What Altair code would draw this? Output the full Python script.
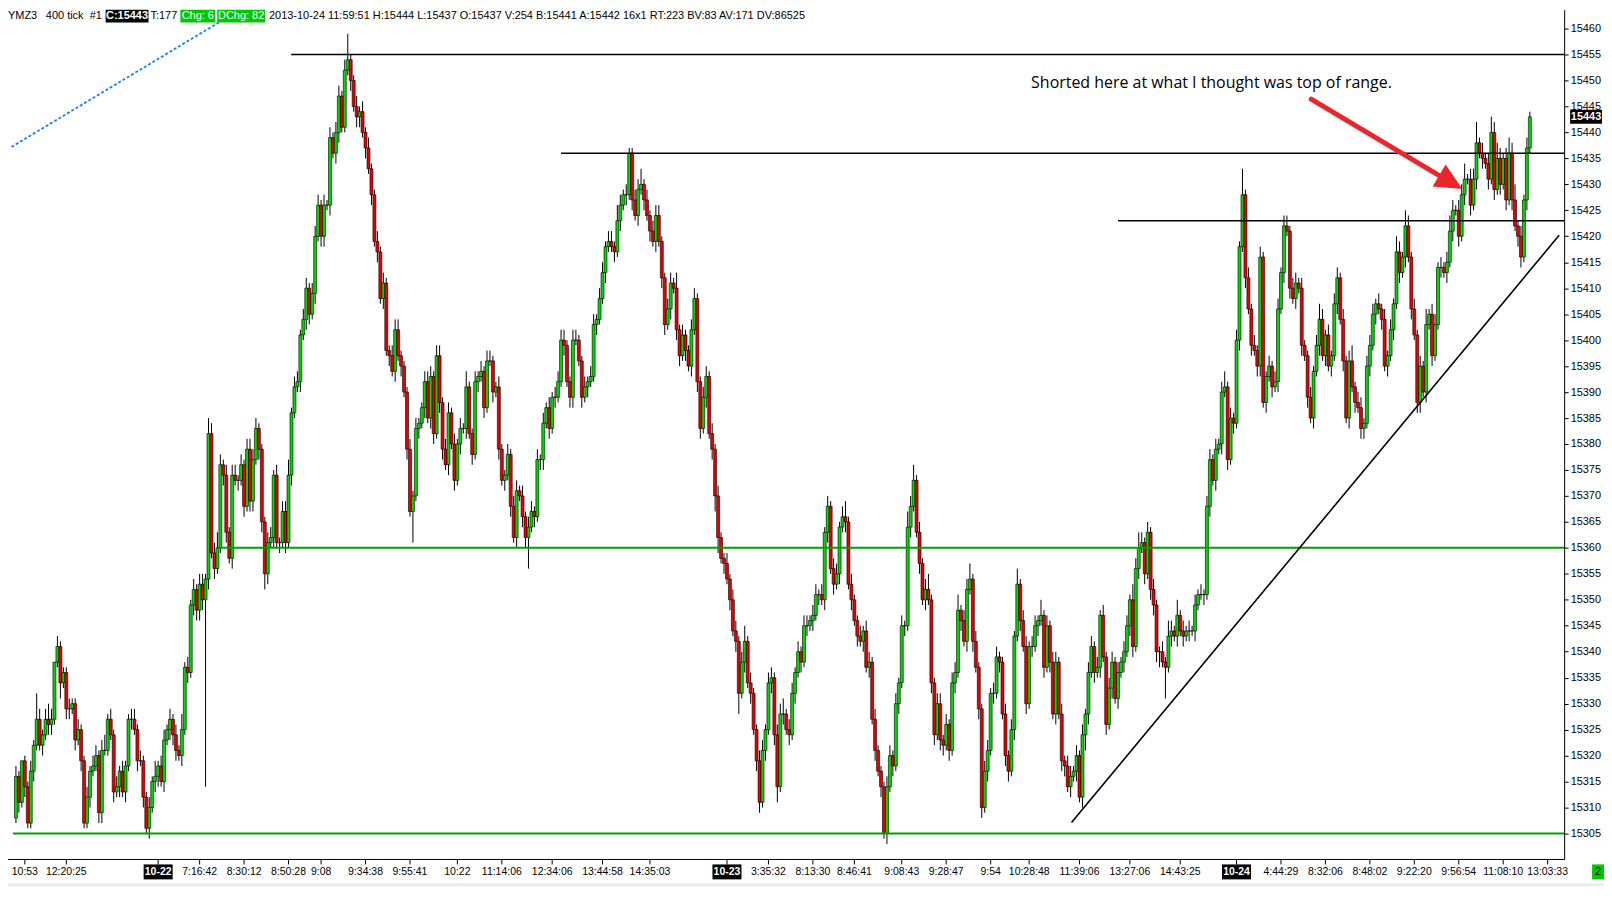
import altair as alt
import pandas as pd

# ---------------- data ----------------
first_open = 15308
close = [
    15316,15311,15319,15314,15307,15317,15322,15327,15322,15324,15327,15326,15327,15338,15341,15334,
    15336,15329,15329,15330,15323,15325,15319,15307,15312,15317,15318,15320,15309,15321,15321,15327,
    15324,15313,15314,15317,15313,15318,15327,15327,15325,15319,15319,15312,15306,15310,15315,15316,
    15318,15315,15323,15325,15327,15324,15321,15320,15325,15337,15336,15349,15352,15348,15353,15350,
    15354,15382,15359,15356,15360,15376,15374,15363,15358,15374,15373,15373,15376,15368,15379,15369,
    15377,15383,15379,15365,15355,15361,15362,15374,15361,15361,15367,15361,15374,15386,15391,15392,
    15401,15404,15410,15405,15409,15420,15426,15420,15426,15426,15439,15436,15440,15447,15441,15452,
    15454,15450,15445,15443,15444,15440,15437,15433,15428,15419,15417,15408,15411,15398,15397,15394,
    15402,15397,15395,15390,15379,15367,15370,15383,15384,15387,15392,15385,15393,15382,15397,15388,
    15379,15376,15386,15380,15373,15380,15383,15383,15391,15382,15378,15392,15393,15394,15387,15396,
    15396,15390,15391,15379,15373,15374,15378,15368,15362,15371,15370,15366,15362,15364,15367,15366,
    15377,15377,15384,15387,15383,15389,15389,15392,15400,15399,15392,15389,15400,15400,15396,15389,
    15391,15392,15393,15403,15404,15408,15413,15418,15419,15418,15417,15423,15426,15428,15428,15436,
    15427,15424,15429,15430,15427,15424,15421,15419,15424,15419,15412,15403,15406,15411,15410,15402,
    15397,15401,15398,15395,15402,15408,15392,15383,15389,15393,15382,15379,15370,15362,15358,15357,
    15354,15350,15344,15342,15332,15338,15342,15334,15332,15325,15319,15311,15321,15325,15334,15335,
    15324,15314,15328,15328,15325,15324,15332,15336,15340,15338,15345,15345,15346,15347,15351,15351,
    15350,15363,15368,15356,15353,15355,15364,15366,15365,15353,15350,15346,15343,15342,15344,15337,
    15338,15327,15321,15317,15314,15305,15314,15320,15318,15330,15334,15345,15345,15364,15368,15373,
    15363,15357,15350,15352,15350,15334,15324,15330,15323,15322,15326,15321,15334,15336,15348,15346,
    15342,15352,15354,15342,15337,15329,15310,15317,15321,15332,15332,15339,15338,15328,15320,15317,
    15325,15343,15353,15346,15341,15330,15341,15341,15345,15346,15347,15337,15345,15338,15328,15338,
    15328,15319,15318,15314,15316,15317,15320,15312,15324,15328,15336,15341,15336,15337,15347,15339,
    15326,15333,15338,15331,15336,15338,15340,15345,15350,15341,15356,15360,15361,15355,15363,15352,
    15349,15340,15340,15338,15337,15343,15344,15343,15347,15344,15343,15344,15344,15344,15349,15351,
    15351,15351,15368,15377,15373,15379,15380,15390,15391,15377,15385,15384,15400,15418,15428,15412,
    15406,15399,15398,15395,15416,15388,15393,15395,15391,15392,15406,15413,15422,15421,15410,15408,
    15411,15410,15399,15397,15389,15385,15394,15399,15404,15397,15401,15395,15397,15407,15412,15404,
    15396,15385,15396,15391,15388,15387,15383,15384,15395,15399,15405,15407,15406,15404,15395,15397,
    15402,15407,15417,15413,15416,15422,15416,15406,15401,15388,15395,15390,15403,15405,15397,15403,
    15414,15414,15413,15415,15421,15425,15425,15420,15428,15431,15431,15426,15431,15438,15436,15435,
    15434,15431,15440,15429,15435,15430,15435,15427,15436,15427,15422,15420,15416,15427,15437,15443,
]
up_wick = [
    2,1,0,1,1,2,1,5,2,1,2,3,2,0,2,1, 1,1,2,1,1,2,1,1,2,1,2,2,1,2,3,1,
    2,1,2,1,2,1,1,2,2,1,2,1,1,2,1,3, 1,2,2,1,2,1,2,1,3,1,2,1,2,1,2,2,
    1,3,2,2,3,2,1,2,1,2,2,1,2,1,2,2, 2,2,1,1,1,2,2,1,2,1,2,2,3,1,2,2,
    1,2,2,1,2,2,2,1,2,1,2,1,2,2,1,2, 5,1,1,2,1,2,1,2,1,1,2,1,2,1,1,2,
    2,2,1,1,1,2,1,2,1,1,2,2,2,1,2,2, 1,2,2,1,2,1,2,1,3,1,1,2,1,2,1,2,
    2,1,1,2,1,1,2,1,2,2,1,2,1,2,2,1, 2,1,2,1,2,1,2,2,2,2,1,1,2,2,1,1,
    2,1,2,2,1,2,2,1,2,2,1,3,2,1,2,1, 1,2,2,3,1,2,1,2,2,2,1,1,2,2,1,3,
    1,2,1,1,2,2,1,1,2,2,1,2,1,2,1,1, 2,1,2,2,1,2,3,1,2,1,1,2,2,1,2,2,
    1,2,2,3,1,2,2,1,2,1,2,2,1,2,2,1, 2,1,2,1,2,2,1,2,3,1,2,1,1,2,1,2,
    2,1,2,1,1,1,2,2,1,2,1,2,1,3,2,3, 1,2,1,2,3,1,1,2,2,1,2,1,2,2,3,1,
    2,2,3,1,2,1,1,2,2,1,2,2,1,1,2,1, 2,1,3,1,2,2,1,2,2,1,3,1,2,1,2,2,
    1,2,1,2,2,1,2,1,2,1,2,2,1,2,1,2, 1,2,2,1,2,1,2,2,1,3,2,3,2,1,2,1,
    2,1,1,2,1,3,2,1,3,1,2,1,2,1,2,1, 2,1,2,2,1,2,1,2,3,1,2,1,2,1,5,1,
    2,1,2,1,2,1,1,2,1,2,2,1,2,2,1,2, 2,1,2,1,1,2,1,2,3,2,1,2,1,2,2,1,
    2,1,2,3,1,2,2,1,2,2,2,1,2,1,2,1, 2,1,3,2,1,3,2,1,2,1,2,1,3,1,2,2,
    1,2,1,2,3,2,1,2,2,3,1,2,2,4,1,2, 1,2,3,2,3,2,1,2,3,2,3,1,2,1,2,1,
]
down_wick = [
    1,2,1,2,1,1,2,1,1,2,1,2,2,1,1,3, 1,2,2,1,2,1,2,1,1,2,1,1,2,2,1,1,
    1,2,1,2,1,2,1,2,1,2,1,2,1,2,1,2, 2,1,2,1,2,2,2,1,2,1,2,1,2,2,2,2,
    36,2,1,2,1,1,2,2,1,2,1,2,1,2,1,2, 2,1,2,2,3,2,1,2,1,2,1,2,1,2,1,1,
    2,1,2,2,1,2,1,2,2,1,2,1,2,2,1,1, 1,2,1,2,2,1,2,1,2,1,2,1,2,1,2,1,
    2,1,2,1,2,1,6,1,2,1,2,1,2,2,1,2, 2,1,2,1,2,1,2,1,2,1,2,1,2,1,2,1,
    1,2,1,2,1,2,1,2,1,2,1,2,2,6,1,2, 1,2,2,1,2,1,2,1,1,2,1,2,2,1,1,2,
    1,2,1,1,2,1,1,2,1,1,2,1,2,1,2,1, 2,1,2,1,2,1,2,1,2,1,2,2,1,2,1,2,
    2,1,2,1,2,1,2,2,1,2,1,2,3,3,1,2, 1,2,1,2,4,1,2,1,2,1,2,2,1,2,1,2,
    2,3,1,2,1,2,1,2,1,2,1,2,1,2,1,2, 1,2,2,1,2,1,2,1,2,1,2,1,2,1,2,1,
    2,1,2,1,2,1,2,1,2,1,2,1,2,1,2,1, 1,2,1,2,1,2,2,1,2,2,1,2,1,2,1,2,
    1,2,1,2,1,2,2,1,2,1,2,1,2,1,2,2, 1,2,1,2,1,2,1,2,1,2,1,2,1,2,1,2,
    1,2,2,1,2,1,2,1,2,3,2,1,2,1,2,1, 2,1,2,1,2,1,2,1,2,2,1,2,1,2,1,2,
    2,2,3,1,6,1,2,1,2,1,2,1,2,1,2,1, 1,2,1,2,1,2,1,2,1,2,1,2,1,2,1,2,
    1,2,1,2,2,1,2,1,2,1,2,1,2,1,2,1, 2,1,2,1,2,1,2,1,2,1,2,1,2,1,2,1,
    2,1,2,1,2,1,2,2,1,2,1,2,1,2,1,2, 1,2,1,2,1,2,1,2,1,2,2,1,2,1,2,1,
    1,2,1,2,1,2,1,2,1,2,1,2,1,2,1,2, 1,2,1,2,1,2,1,2,1,2,1,2,2,1,2,1,
]

time_idx = [3, 17, 62, 77, 92, 103, 118, 133, 149, 164, 181, 198, 214, 254, 269, 283, 299,
            314, 329, 342, 359, 376, 393, 427, 442, 457, 472, 487, 502, 517]
time_lbl = ["10:53", "12:20:25", "7:16:42", "8:30:12", "8:50:28", "9:08", "9:34:38", "9:55:41",
            "10:22", "11:14:06", "12:34:06", "13:44:58", "14:35:03", "3:35:32", "8:13:30",
            "8:46:41", "9:08:43", "9:28:47", "9:54", "10:28:48", "11:39:06", "13:27:06",
            "14:43:25", "4:44:29", "8:32:06", "8:48:02", "9:22:20", "9:56:54", "11:08:10", "13:03:33"]
day_idx = [48, 240, 412]
day_lbl = ["10-22", "10-23", "10-24"]
price_ticks = [15305, 15310, 15315, 15320, 15325, 15330, 15335, 15340, 15345, 15350, 15355,
               15360, 15365, 15370, 15375, 15380, 15385, 15390, 15395, 15400, 15405, 15410,
               15415, 15420, 15425, 15430, 15435, 15440, 15445, 15450, 15455, 15460]

res_levels = [15455, 15436, 15423]
res_from = [92.9, 184.0, 372.0]
sup_levels = [15360, 15305]
sup_from = [68.2, -1.0]
trend_idx = [356.3, 520.9]
trend_px = [15307.1, 15420.2]
blue_idx = [-1.5, 70.9]
blue_px = [15437.2, 15462.0]
arrow_idx = [437.2, 481.3]
arrow_px = [15446.4, 15431.4]
head_idx = [484.3]
head_px = [15430.4]
last_price = 15443
note = "Shorted here at what I thought was top of range."

# ---------------- build ----------------
W, H = 1562, 853
FONT = "Liberation Sans, Arial, sans-serif"
GREEN, RED = "#00D800", "#E80000"

n = min(len(close), len(up_wick), len(down_wick))
opens = [first_open] + close[:n - 1]
rows = []
for k in range(n):
    o, c = opens[k], close[k]
    rows.append({"i": k, "open": o, "close": c,
                 "high": max(o, c) + up_wick[k], "low": min(o, c) - down_wick[k],
                 "dir": "up" if c >= o else "down"})
df = pd.DataFrame(rows)

xs = alt.Scale(domain=[-1.0, 520.9], nice=False, zero=False)
ys = alt.Scale(domain=[15300.0, 15463.64], nice=False, zero=False)
yax = alt.Axis(orient="right", values=price_ticks, format="d", title="", grid=False,
               domainColor="black", domainWidth=1, tickColor="black", tickSize=4, tickWidth=1,
               labelFont=FONT, labelFontSize=11, labelColor="black", labelPadding=2,
               labelOverlap=False, labelFlush=False)


def X(f):
    return alt.X(f, type="quantitative", scale=xs, axis=None)


def Y(f):
    return alt.Y(f, type="quantitative", scale=ys, axis=yax)


wicks = alt.Chart(df).mark_rule(color="black", strokeWidth=1).encode(
    x=X("i"), y=Y("low"), y2="high")
bodies = alt.Chart(df).mark_bar(size=3.0, stroke="black", strokeWidth=0.6).encode(
    x=X("i"), y=Y("open"), y2="close",
    color=alt.Color("dir:N", scale=alt.Scale(domain=["up", "down"], range=[GREEN, RED]), legend=None))

res_df = pd.DataFrame({"lvl": res_levels, "from": res_from})
sup_df = pd.DataFrame({"lvl": sup_levels, "from": sup_from})
res_lines = alt.Chart(res_df).mark_rule(color="black", strokeWidth=1.6, clip=True).encode(
    x=X("from"), x2=alt.value(W), y=Y("lvl"))
sup_lines = alt.Chart(sup_df).mark_rule(color="#00A000", strokeWidth=2, clip=True).encode(
    x=X("from"), x2=alt.value(W), y=Y("lvl"))

trend = alt.Chart(pd.DataFrame({"i": trend_idx, "p": trend_px})).mark_line(
    color="black", strokeWidth=1.6, clip=True).encode(x=X("i"), y=Y("p"))
blue = alt.Chart(pd.DataFrame({"i": blue_idx, "p": blue_px})).mark_line(
    color="#1E7FF0", strokeWidth=1.8, strokeDash=[3, 2], clip=True).encode(x=X("i"), y=Y("p"))
shaft = alt.Chart(pd.DataFrame({"i": arrow_idx, "p": arrow_px})).mark_line(
    color="#E8262B", strokeWidth=5, strokeCap="round").encode(x=X("i"), y=Y("p"))
head = alt.Chart(pd.DataFrame({"i": head_idx, "p": head_px})).mark_point(
    shape="M1,0L-1,-0.95L-1,0.95Z", filled=True, size=730, angle=30.5, color="#E8262B",
    opacity=1, strokeWidth=0).encode(x=X("i"), y=Y("p"))


def ptext(txt, x, y, **kw):
    return alt.Chart(pd.DataFrame({"t": [txt]})).mark_text(**kw).encode(
        x=alt.value(x), y=alt.value(y), text="t:N")


def prect(x1, x2, y1, y2, color):
    return alt.Chart(pd.DataFrame({"a": [0]})).mark_rect(color=color).encode(
        x=alt.value(x1), x2=alt.value(x2), y=alt.value(y1), y2=alt.value(y2))


note_txt = ptext(note, 1208, 74, font="Open Sans", fontSize=16, color="black", align="center",
                 baseline="middle")

# bottom time axis
axis_line = alt.Chart(pd.DataFrame({"a": [0]})).mark_rule(color="black", strokeWidth=1).encode(
    x=alt.value(0), x2=alt.value(W), y=alt.value(H))
t_df = pd.DataFrame({"i": time_idx, "lbl": time_lbl})
d_df = pd.DataFrame({"i": day_idx, "lbl": day_lbl})
t_ticks = alt.Chart(t_df).mark_rule(color="black").encode(
    x=X("i"), y=alt.value(H), y2=alt.value(H + 5))
t_text = alt.Chart(t_df).mark_text(font=FONT, fontSize=10.5, color="black", baseline="middle",
                                   align="center").encode(
    x=X("i"), y=alt.value(H + 13), text="lbl:N")
d_ticks = alt.Chart(d_df).mark_rule(color="black").encode(
    x=X("i"), y=alt.value(H), y2=alt.value(H + 5))
d_box = alt.Chart(d_df).transform_calculate(a="datum.i - 4.9", b="datum.i + 4.9").mark_rect(
    color="black").encode(x=X("a"), x2="b", y=alt.value(H + 5), y2=alt.value(H + 20))
d_text = alt.Chart(d_df).mark_text(font=FONT, fontSize=10.5, fontWeight="bold", color="white",
                                   baseline="middle", align="center").encode(
    x=X("i"), y=alt.value(H + 13), text="lbl:N")

# current price marker on the price axis
lp = alt.Chart(pd.DataFrame({"p": [last_price]})).transform_calculate(
    a="datum.p + 1.35", b="datum.p - 1.35")
lp_box = lp.mark_rect(color="black").encode(
    x=alt.value(W + 6), x2=alt.value(W + 38), y=Y("a"), y2="b")
lp_text = lp.mark_text(font=FONT, fontSize=11, fontWeight="bold", color="white",
                       baseline="middle", align="center").encode(
    x=alt.value(W + 22), y=Y("p"), text=alt.Text("p:Q", format="d"))

green_box = prect(W + 28, W + 40, H + 5, H + 20, "#00C800")
green_txt = ptext("2", W + 34, H + 13, font=FONT, fontSize=11, color="black",
                  align="center", baseline="middle")
scroll = prect(0, W + 40, H + 24, H + 27, "#EDEDED")

# header line
hy = 6
hk = dict(font=FONT, fontSize=11, baseline="middle")
header = [
    ptext("YMZ3", 0, hy, color="black", align="left", **hk),
    ptext("400 tick", 38, hy, color="black", align="left", **hk),
    ptext("#1", 82, hy, color="black", align="left", **hk),
    prect(98, 141, 0, 13, "black"),
    ptext("C:15443", 119.5, hy, fontWeight="bold", color="white", align="center", **hk),
    ptext("T:177", 143, hy, color="black", align="left", **hk),
    prect(173, 208, 0, 13, "#00C800"),
    ptext("Chg: 6", 190.5, hy, color="white", align="center", **hk),
    prect(210, 258, 0, 13, "#00C800"),
    ptext("DChg: 82", 234, hy, color="white", align="center", **hk),
    ptext("2013-10-24 11:59:51 H:15444 L:15437 O:15437 V:254 B:15441 A:15442 16x1 RT:223 "
          "BV:83 AV:171 DV:86525", 262, hy, color="black", align="left", **hk),
]

chart = alt.layer(
    wicks, bodies, res_lines, sup_lines, trend, blue, shaft, head, note_txt,
    axis_line, t_ticks, t_text, d_ticks, d_box, d_text, lp_box, lp_text,
    green_box, green_txt, scroll, *header
).properties(
    width=W, height=H,
    autosize=alt.AutoSizeParams(type="none"),
    padding={"left": 0, "top": 0, "right": 40, "bottom": 27},
).configure_view(stroke="transparent")

chart.save("out.html", embed_options={"renderer": "svg", "actions": False})
